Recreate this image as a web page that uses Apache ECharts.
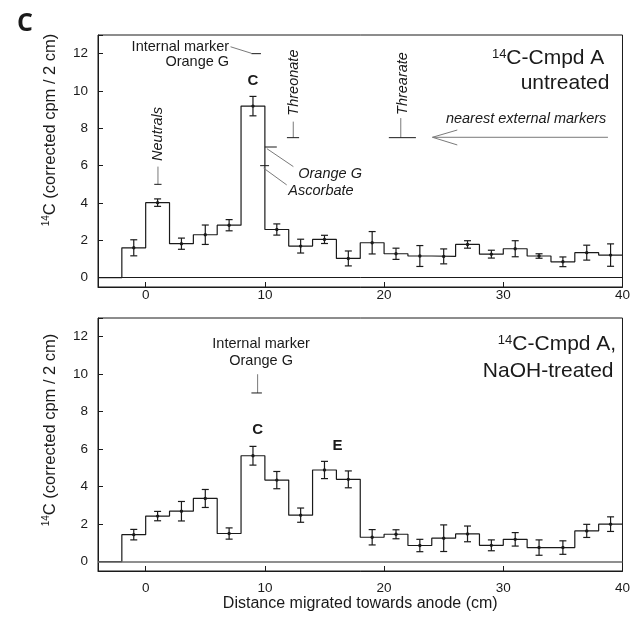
<!DOCTYPE html>
<html>
<head>
<meta charset="utf-8">
<script src="https://cdn.jsdelivr.net/npm/echarts@6/dist/echarts.min.js"></script>
<style>
  html, body { margin: 0; padding: 0; background: #fff; }
  #main { width: 633px; height: 626px; }
</style>
</head>
<body>
<div id="main"></div>
<script>
// bins are 2 cm wide, centred at these distances
var binCenters = [-1, 1, 3, 5, 7, 9, 11, 13, 15, 17, 19, 21, 23, 25, 27, 29, 31, 33, 35, 37, 39];

// top panel: untreated
var untreatedCpm = [1.6, 4.02, 1.82, 2.3, 2.81, 9.19, 2.58, 1.69, 2.05, 1.03, 1.87, 1.28, 1.16, 1.14, 1.78, 1.26, 1.55, 1.16, 0.85, 1.34, 1.21];
var untreatedErr = [0.43, 0.2, 0.3, 0.52, 0.3, 0.52, 0.3, 0.37, 0.22, 0.4, 0.6, 0.3, 0.56, 0.4, 0.2, 0.21, 0.43, 0.12, 0.26, 0.4, 0.6];

// bottom panel: NaOH-treated
var naohCpm = [1.44, 2.43, 2.69, 3.37, 1.5, 5.65, 4.35, 2.48, 4.89, 4.39, 1.3, 1.46, 0.86, 1.25, 1.48, 0.87, 1.19, 0.75, 0.75, 1.64, 2.0];
var naohErr = [0.28, 0.25, 0.52, 0.48, 0.3, 0.5, 0.46, 0.38, 0.46, 0.45, 0.41, 0.24, 0.33, 0.71, 0.42, 0.29, 0.36, 0.41, 0.36, 0.35, 0.39];

var xTicks = [0, 10, 20, 30, 40];
var yTicks = [0, 2, 4, 6, 8, 10, 12];

var FONT = '"Liberation Sans", Arial, sans-serif';
var INK = '#1a1a1a';
var GREY = '#7a7a7a';

var myChart = echarts.init(document.getElementById('main'));

function stepData(vals) {
  var d = [[-4, 0]];
  for (var i = 0; i < binCenters.length; i++) {
    d.push([binCenters[i] - 1, vals[i]]);
  }
  d.push([binCenters[binCenters.length - 1] + 1, vals[vals.length - 1]]);
  return d;
}

function errData(vals, errs) {
  return binCenters.map(function (c, i) { return [c, vals[i], errs[i]]; });
}

function renderErr(params, api) {
  var x = api.value(0), y = api.value(1), e = api.value(2);
  var lo = api.coord([x, y - e]);
  var hi = api.coord([x, y + e]);
  var mid = api.coord([x, y]);
  var w = 3.5;
  var st = { stroke: INK, lineWidth: 1.2 };
  return {
    type: 'group',
    children: [
      { type: 'line', shape: { x1: lo[0], y1: lo[1], x2: hi[0], y2: hi[1] }, style: st },
      { type: 'line', shape: { x1: lo[0] - w, y1: lo[1], x2: lo[0] + w, y2: lo[1] }, style: st },
      { type: 'line', shape: { x1: hi[0] - w, y1: hi[1], x2: hi[0] + w, y2: hi[1] }, style: st },
      { type: 'circle', shape: { cx: mid[0], cy: mid[1], r: 1.7 }, style: { fill: INK } }
    ]
  };
}

function rich(size) {
  return { sup: { fontSize: Math.round(size * 0.62), verticalAlign: 'top', fontFamily: FONT, fill: INK } };
}

// marker annotations, in data units of each panel
var topLines = [
  [7.12, 12.37, 8.87, 12.02, GREY],
  [8.87, 12, 9.67, 12, INK],
  [1.03, 5, 1.03, 5.95, GREY],
  [0.72, 5, 1.33, 5, INK],
  [12.38, 7.5, 12.38, 8.36, GREY],
  [11.85, 7.5, 12.87, 7.5, INK],
  [10, 7, 11, 7, INK],
  [10.17, 6.91, 12.39, 5.95, GREY],
  [9.6, 6, 10.35, 6, INK],
  [9.89, 5.87, 11.83, 4.97, GREY],
  [21.4, 7.5, 21.4, 8.55, GREY],
  [20.4, 7.5, 22.67, 7.5, INK],
  [24.06, 7.52, 38.78, 7.52, GREY],
  [24.06, 7.52, 26.14, 7.91, GREY],
  [24.06, 7.52, 26.14, 7.11, GREY]
];
var topTexts = [
  { text: 'Internal marker', x: 7.0, y: 12.35, align: 'right' },
  { text: 'Orange G', x: 7.0, y: 11.55, align: 'right' },
  { text: 'C', x: 9.0, y: 10.53, bold: true, size: 15 },
  { text: 'Neutrals', x: 1.07, y: 7.7, italic: true, rot: true },
  { text: 'Threonate', x: 12.45, y: 10.45, italic: true, rot: true },
  { text: 'Orange G', x: 12.8, y: 5.56, italic: true, align: 'left' },
  { text: 'Ascorbate', x: 11.97, y: 4.67, italic: true, align: 'left' },
  { text: 'Threarate', x: 21.56, y: 10.4, italic: true, rot: true },
  { text: 'nearest external markers', x: 38.64, y: 8.5, italic: true, align: 'right' },
  { text: '{sup|14}C-Cmpd A', x: 38.48, y: 11.76, align: 'right', size: 21 },
  { text: 'untreated', x: 38.9, y: 10.43, align: 'right', size: 21 }
];
var bottomLines = [
  [9.39, 9, 9.39, 10.0, GREY],
  [8.87, 9, 9.75, 9, INK]
];
var bottomTexts = [
  { text: 'Internal marker', x: 9.68, y: 11.63 },
  { text: 'Orange G', x: 9.68, y: 10.7 },
  { text: 'C', x: 9.4, y: 7.04, bold: true, size: 15 },
  { text: 'E', x: 16.1, y: 6.2, bold: true, size: 15 },
  { text: '{sup|14}C-Cmpd A,', x: 39.47, y: 11.59, align: 'right', size: 21 },
  { text: 'NaOH-treated', x: 39.25, y: 10.16, align: 'right', size: 21 }
];

function renderAnno(lines, texts) {
  return function (params, api) {
    var kids = [];
    lines.forEach(function (l) {
      var a = api.coord([l[0], l[1]]), b = api.coord([l[2], l[3]]);
      kids.push({ type: 'line', shape: { x1: a[0], y1: a[1], x2: b[0], y2: b[1] }, style: { stroke: l[4], lineWidth: 1 } });
    });
    texts.forEach(function (t) {
      var p = api.coord([t.x, t.y]);
      var size = t.size || 14.5;
      var al = t.align || 'center';
      kids.push({
        type: 'text', x: p[0], y: p[1], rotation: t.rot ? Math.PI / 2 : 0,
        style: {
          text: t.text, fill: INK, fontSize: size, fontFamily: FONT,
          fontStyle: t.italic ? 'italic' : 'normal', fontWeight: t.bold ? 'bold' : 'normal',
          align: al, verticalAlign: 'middle', textAlign: al, textVerticalAlign: 'middle',
          rich: rich(size)
        }
      });
    });
    return { type: 'group', children: kids };
  };
}

function xAxisCfg(idx, margin, named) {
  var a = {
    type: 'value', gridIndex: idx, min: -4, max: 40, splitNumber: 4,
    axisLine: { onZero: false, lineStyle: { color: INK, width: 1 } },
    axisTick: { inside: true, length: 5, lineStyle: { color: INK } },
    axisLabel: {
      margin: margin, color: INK, fontSize: 13.5, fontFamily: FONT,
      formatter: function (v) { return xTicks.indexOf(v) >= 0 ? String(v) : ''; }
    },
    splitLine: { show: false }
  };
  if (named) {
    a.name = 'Distance migrated towards anode (cm)';
    a.nameLocation = 'middle';
    a.nameGap = 23;
    a.nameTextStyle = { fontSize: 16, color: INK, fontFamily: FONT };
  }
  return a;
}

function yAxisCfg(idx) {
  return {
    type: 'value', gridIndex: idx, min: -0.5, max: 13, splitNumber: 7,
    axisLine: { onZero: false, lineStyle: { color: INK, width: 1 } },
    axisTick: { inside: true, length: 5, lineStyle: { color: INK } },
    axisLabel: {
      margin: 10, color: INK, fontSize: 13.5, fontFamily: FONT,
      formatter: function (v) { return yTicks.indexOf(v) >= 0 ? String(v) : ''; }
    },
    splitLine: { show: false }
  };
}

function stepSeries(idx, vals, zeroColor, zeroWidth) {
  return {
    type: 'line', xAxisIndex: idx, yAxisIndex: idx, step: 'end',
    data: stepData(vals), showSymbol: false, symbol: 'none',
    lineStyle: { color: INK, width: 1.2 },
    markLine: {
      silent: true, symbol: 'none', label: { show: false },
      lineStyle: { color: zeroColor, width: zeroWidth, type: 'solid' },
      data: [{ yAxis: 0 }]
    },
    z: 3
  };
}

myChart.setOption({
  animation: false,
  backgroundColor: '#fff',
  grid: [
    { left: 98, top: 35, width: 528, height: 252, show: true, borderColor: INK, borderWidth: 1 },
    { left: 98, top: 318, width: 528, height: 253, show: true, borderColor: INK, borderWidth: 1 }
  ],
  xAxis: [xAxisCfg(0, 1, false), xAxisCfg(1, 10, true)],
  yAxis: [yAxisCfg(0), yAxisCfg(1)],
  graphic: [
    {
      type: 'text', x: 25, y: 24,
      style: { text: 'C', fill: INK, fontSize: 25, fontWeight: 'bold', fontFamily: '"Open Sans", ' + FONT,
        align: 'center', verticalAlign: 'middle', textAlign: 'center', textVerticalAlign: 'middle' }
    },
    {
      type: 'text', x: 50, y: 130, rotation: Math.PI / 2,
      style: { text: '{sup|14}C (corrected cpm / 2 cm)', fill: INK, fontSize: 16.5, fontFamily: FONT,
        align: 'center', verticalAlign: 'middle', textAlign: 'center', textVerticalAlign: 'middle', rich: rich(16.5) }
    },
    {
      type: 'text', x: 50, y: 430, rotation: Math.PI / 2,
      style: { text: '{sup|14}C (corrected cpm / 2 cm)', fill: INK, fontSize: 16.5, fontFamily: FONT,
        align: 'center', verticalAlign: 'middle', textAlign: 'center', textVerticalAlign: 'middle', rich: rich(16.5) }
    }
  ],
  series: [
    stepSeries(0, untreatedCpm, INK, 1),
    {
      type: 'custom', name: 'untreated err', xAxisIndex: 0, yAxisIndex: 0,
      data: errData(untreatedCpm, untreatedErr), renderItem: renderErr, z: 4
    },
    {
      type: 'custom', name: 'top markers', xAxisIndex: 0, yAxisIndex: 0, silent: true,
      data: [[0, 0]], renderItem: renderAnno(topLines, topTexts), z: 5
    },
    stepSeries(1, naohCpm, '#6a6a6a', 1.6),
    {
      type: 'custom', name: 'naoh err', xAxisIndex: 1, yAxisIndex: 1,
      data: errData(naohCpm, naohErr), renderItem: renderErr, z: 4
    },
    {
      type: 'custom', name: 'bottom markers', xAxisIndex: 1, yAxisIndex: 1, silent: true,
      data: [[0, 0]], renderItem: renderAnno(bottomLines, bottomTexts), z: 5
    }
  ]
});
</script>
</body>
</html>
